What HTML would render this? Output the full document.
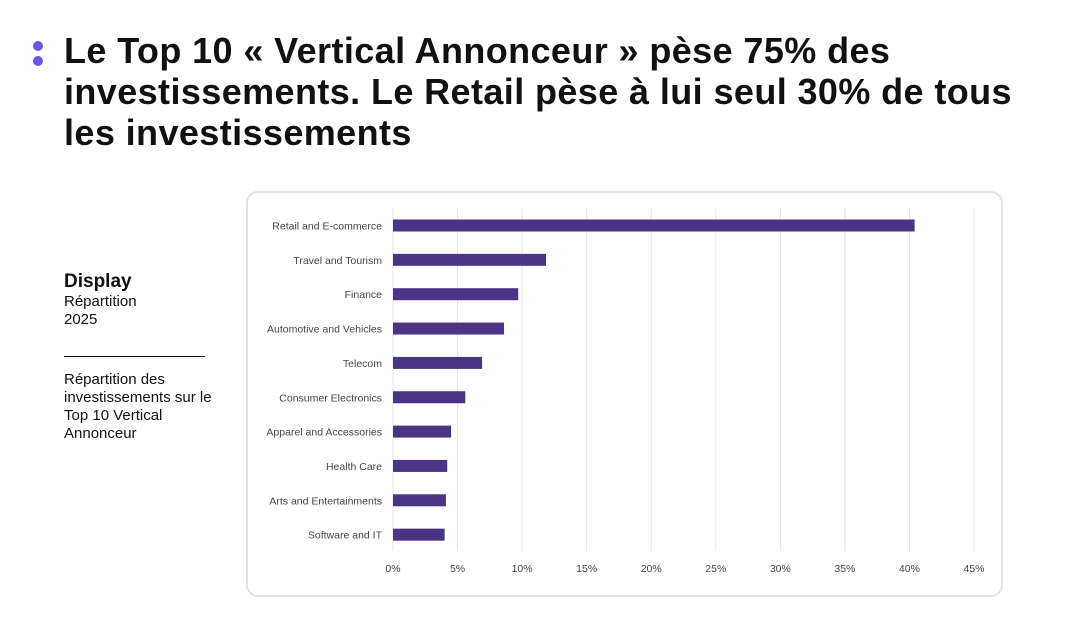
<!DOCTYPE html>
<html><head><meta charset="utf-8"><style>
body{margin:0;width:1080px;height:619px;background:#fff;overflow:hidden;position:relative;font-family:"Liberation Sans",sans-serif}
.t{position:absolute;left:64px;top:30px;font-size:36px;font-weight:bold;line-height:41px;color:#111;letter-spacing:0.4px;white-space:nowrap}
.dot{position:absolute;left:33px;width:10px;height:10px;border-radius:50%;background:#6a55e8}
.side{position:absolute;left:64px;color:#111}
</style></head><body>
<div class="dot" style="top:41px"></div>
<div class="dot" style="top:56px"></div>
<div class="t">Le Top 10 « Vertical Annonceur » pèse 75% des<br>investissements. Le Retail pèse à lui seul 30% de tous<br>les investissements</div>
<div class="side" style="top:271px;font-size:19px;font-weight:bold">Display</div>
<div class="side" style="top:293px;font-size:15px;line-height:18px">Répartition<br>2025</div>
<div style="position:absolute;left:64px;top:356px;width:141px;height:1px;background:#111"></div>
<div class="side" style="top:371px;font-size:15px;line-height:18px">Répartition des<br>investissements sur le<br>Top 10 Vertical<br>Annonceur</div>
<div style="position:absolute;left:246px;top:191px;width:753px;height:402px;border:2px solid #e2e2e6;border-radius:12px"></div>
<svg id="c" width="1080" height="619" style="position:absolute;left:0;top:0"></svg>
<script>
const categories=["Retail and E-commerce","Travel and Tourism","Finance","Automotive and Vehicles","Telecom","Consumer Electronics","Apparel and Accessories","Health Care","Arts and Entertainments","Software and IT"];
const values=[40.4,11.85,9.7,8.6,6.9,5.6,4.5,4.2,4.1,4.0];
const ticks=[0,5,10,15,20,25,30,35,40,45];
const tickLabels=["0%","5%","10%","15%","20%","25%","30%","35%","40%","45%"];
const svg=document.getElementById('c');const NS="http://www.w3.org/2000/svg";
const x=v=>393+v*(974-393)/45;
const y=i=>225.5+i*34.35;
function mk(t,a){const e=document.createElementNS(NS,t);for(const k in a)e.setAttribute(k,a[k]);svg.appendChild(e);return e;}
ticks.forEach((t,i)=>{
 const l=mk('line',{x1:x(t),x2:x(t),y1:208,y2:551,stroke:'#e4e4e4','stroke-width':1});
 
 
 const tx=mk('text',{x:x(t),y:572,'text-anchor':'middle','font-size':10.5,fill:'#444','font-family':'Liberation Sans, sans-serif'});
 tx.textContent=tickLabels[i];
 
 
});
categories.forEach((c,i)=>{
 const r=mk('rect',{x:x(0),y:y(i)-6,width:x(values[i])-x(0),height:12,fill:'#4b3486'});
 
 
 const tx=mk('text',{x:382,y:y(i)+4,'text-anchor':'end','font-size':10.5,fill:'#444','font-family':'Liberation Sans, sans-serif'});
 tx.textContent=c;
 
 
});
</script>
</body></html>
